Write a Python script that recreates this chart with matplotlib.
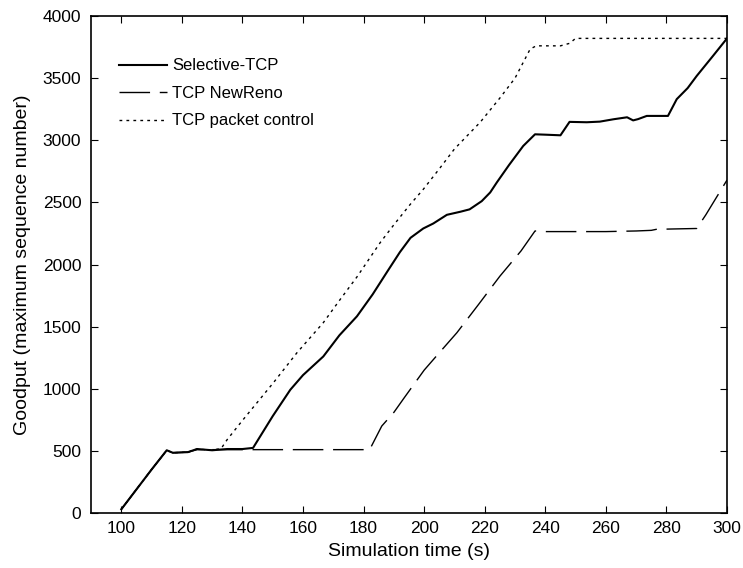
import matplotlib
matplotlib.use("Agg")
import matplotlib.pyplot as plt

plt.rcParams['font.family'] = ['Liberation Sans', 'DejaVu Sans']

# values
sel_t = [100, 105, 110, 115, 117, 122, 125, 130, 135, 140, 143.5, 150, 155.8, 160, 166.7,
         172, 177.8, 183, 188, 192, 195.5, 199.7, 203, 207.5, 212, 215, 219, 221.8, 224,
         228, 232.7, 236.6, 240, 245, 248, 253.7, 258, 262.5, 267, 269, 270.6, 273.5,
         280.5, 283.4, 287, 290, 295.4, 300]
sel_y = [30, 190, 350, 505, 485, 490, 515, 505, 515, 515, 524, 780, 992, 1110, 1260,
         1430, 1583, 1760, 1950, 2100, 2215, 2290, 2330, 2400, 2425, 2444, 2510, 2580, 2661,
         2800, 2954, 3048, 3045, 3040, 3148, 3145, 3150, 3169, 3185, 3160, 3170, 3196,
         3196, 3331, 3420, 3518, 3680, 3820]

reno_t = [100, 105, 110, 115, 117, 122, 125, 130, 140, 150, 160, 170, 182, 186, 190,
          193.4, 200, 205, 210.8, 218, 225, 232, 236.6, 240, 250, 260, 270, 275, 277,
          280, 290, 293, 297, 300]
reno_y = [30, 190, 350, 505, 485, 490, 510, 510, 510, 510, 510, 510, 510, 700, 810,
          927, 1150, 1290, 1451, 1680, 1906, 2110, 2270, 2265, 2265, 2265, 2270, 2275, 2285,
          2285, 2290, 2400, 2560, 2680]

pkt_t = [100, 105, 110, 115, 117, 122, 125, 130, 133, 134.9, 140, 150.2, 158, 166.7,
         172, 177.8, 185.5, 190, 195.4, 199.7, 205, 210, 218.5, 225, 230, 235, 237,
         245, 248, 250, 260, 280, 300]
pkt_y = [30, 190, 350, 505, 485, 490, 515, 505, 520, 589, 745, 1048, 1290, 1532,
         1710, 1900, 2177, 2320, 2484, 2605, 2770, 2930, 3145, 3340, 3500, 3734, 3760,
         3760, 3780, 3820, 3820, 3820, 3820]

x_ticks = [100, 120, 140, 160, 180, 200, 220, 240, 260, 280, 300]
y_ticks = [0, 500, 1000, 1500, 2000, 2500, 3000, 3500, 4000]

fig = plt.figure(figsize=(7.43, 5.68), dpi=100)
ax = fig.add_axes((0.1225, 0.0968, 0.856, 0.875))

ax.plot(sel_t, sel_y, color='black', lw=1.5, label='Selective-TCP')
ax.plot(reno_t, reno_y, color='black', lw=1.0, dashes=(22, 7), label='TCP NewReno')
ax.plot(pkt_t, pkt_y, color='black', lw=1.0, dashes=(2, 3), label='TCP packet control')

ax.set_xlim(90, 300)
ax.set_ylim(0, 4000)
ax.set_xticks(x_ticks)
ax.set_yticks(y_ticks)
ax.tick_params(direction='in', top=True, right=True, labelsize=12.5, length=5)
ax.tick_params(axis='x', pad=6)
ax.tick_params(axis='y', pad=7)
for s in ax.spines.values():
    s.set_linewidth(1.2)

ax.set_xlabel('Simulation time (s)', fontsize=14, labelpad=5)
ax.set_ylabel('Goodput (maximum sequence number)', fontsize=14, labelpad=8)

ax.legend(loc='upper left', bbox_to_anchor=(0.02, 0.945), frameon=False,
          fontsize=12, handlelength=2.9, handletextpad=0.3, labelspacing=0.75)

fig.savefig('out.png', dpi=100)
